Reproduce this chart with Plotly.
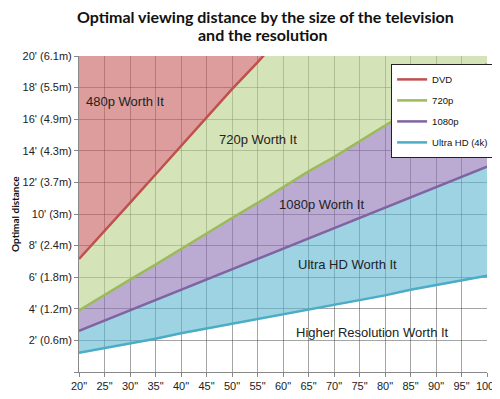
import plotly.graph_objects as go

sizes = [20, 25, 30, 35, 40, 45, 50, 55, 60, 65, 70, 75, 80, 85, 90, 95, 100]
dvd = [7.15, 8.9, 10.7, 12.5, 14.3, 16.1, 17.9, 19.6, 21.4, 23.2, 25.0, 26.8, 28.6, 30.4, 32.1, 33.9, 35.7]
p720 = [3.9, 4.9, 5.85, 6.8, 7.8, 8.8, 9.75, 10.7, 11.7, 12.7, 13.6, 14.6, 15.6, 16.6, 17.5, 18.5, 19.5]
p1080 = [2.6, 3.25, 3.9, 4.55, 5.2, 5.85, 6.5, 7.15, 7.8, 8.45, 9.1, 9.75, 10.4, 11.05, 11.7, 12.35, 13.0]
uhd = [1.22, 1.5, 1.8, 2.1, 2.45, 2.75, 3.05, 3.35, 3.65, 3.95, 4.25, 4.55, 4.85, 5.2, 5.5, 5.8, 6.1]

x_ticks = [f'{s}"' for s in sizes]
y_max = 20
y_vals = [0, 2, 4, 6, 8, 10, 12, 14, 16, 18, 20]
y_ticks = ["", "2' (0.6m)", "4' (1.2m)", "6' (1.8m)", "8' (2.4m)", "10' (3m)",
           "12' (3.7m)", "14' (4.3m)", "16' (4.9m)", "18' (5.5m)", "20' (6.1m)"]

zones = [("480p Worth It", 29, 17.1), ("720p Worth It", 55, 14.7),
         ("1080p Worth It", 67.6, 10.6), ("Ultra HD Worth It", 72.7, 6.8),
         ("Higher Resolution Worth It", 77.6, 2.5)]

series = [("Ultra HD (4k)", uhd, "#4BACC6", None),
          ("1080p", p1080, "#8064A2", "rgba(92,182,207,0.6)"),
          ("720p", p720, "#9BBB59", "rgba(142,115,182,0.6)"),
          ("DVD", dvd, "#C0504D", "rgba(185,208,137,0.6)")]

fig = go.Figure()
# filled bands (no legend)
for name, vals, col, fillc in series:
    fig.add_trace(go.Scatter(x=sizes, y=vals, mode="lines", showlegend=False, hoverinfo="skip",
                             line=dict(width=0, color="rgba(0,0,0,0)"),
                             fill="tonexty" if fillc else None, fillcolor=fillc))
fig.add_trace(go.Scatter(x=sizes, y=[y_max] * len(sizes), mode="lines", showlegend=False,
                         line=dict(width=0, color="rgba(0,0,0,0)"), hoverinfo="skip",
                         fill="tonexty", fillcolor="rgba(197,92,90,0.6)"))
# lines on top (legend entries)
for rank, (name, vals, col, fillc) in zip([4, 3, 2, 1], series):
    fig.add_trace(go.Scatter(x=sizes, y=vals, name=name, mode="lines",
                             line=dict(color=col, width=2.5), legendgroup=name, legendrank=rank))

for txt, xv, yv in zones:
    fig.add_annotation(x=xv, y=yv, text=txt, showarrow=False,
                       font=dict(family="Liberation Sans", size=13, color="#222222"))

fig.add_annotation(xref="paper", yref="paper", x=-0.157, y=0.5, xanchor="center", yanchor="middle",
                   text="<b>Optimal distance</b>", textangle=-90, showarrow=False,
                   font=dict(family="Lato", size=10, color="#111111"))

fig.add_annotation(xref="paper", yref="paper", x=0.456, y=1.124, xanchor="center", yanchor="middle",
                   text="<b>Optimal viewing distance by the size of the television</b>",
                   showarrow=False, font=dict(family="Lato", size=16, color="#111111"))
fig.add_annotation(xref="paper", yref="paper", x=0.451, y=1.068, xanchor="center", yanchor="middle",
                   text="<b>and the resolution</b>",
                   showarrow=False, font=dict(family="Lato", size=16, color="#111111"))

# page body adds an 8px offset; margins compensate so the plot lands where the reference has it
fig.update_layout(
    width=500, height=399,
    margin=dict(l=71, r=21, t=48, b=35, autoexpand=False),
    paper_bgcolor="white",
    plot_bgcolor="white",
    showlegend=True,
    legend=dict(x=0.765, xanchor="left", y=0.975, yanchor="top",
                traceorder="grouped", tracegroupgap=2,
                bgcolor="white", bordercolor="#222222", borderwidth=1,
                font=dict(family="Liberation Sans", size=9.5, color="#111111"),
                itemwidth=30),
)
fig.update_xaxes(range=[20, 100], tickvals=sizes, ticktext=x_ticks,
                 showgrid=True, gridcolor="rgba(40,40,40,0.42)", gridwidth=1,
                 showline=True, linecolor="#888888", ticks="outside", ticklen=4, tickcolor="#888888",
                 tickfont=dict(family="Liberation Sans", size=11, color="#222222"),
                 zeroline=False, fixedrange=True)
fig.update_yaxes(range=[0, y_max], tickvals=y_vals, ticktext=y_ticks,
                 showgrid=True, gridcolor="rgba(40,40,40,0.42)", gridwidth=1,
                 showline=True, linecolor="#888888", ticks="outside", ticklen=4, tickcolor="#888888",
                 tickfont=dict(family="Liberation Sans", size=11, color="#222222"),
                 zeroline=False, fixedrange=True)

fig.write_html("out.html")
